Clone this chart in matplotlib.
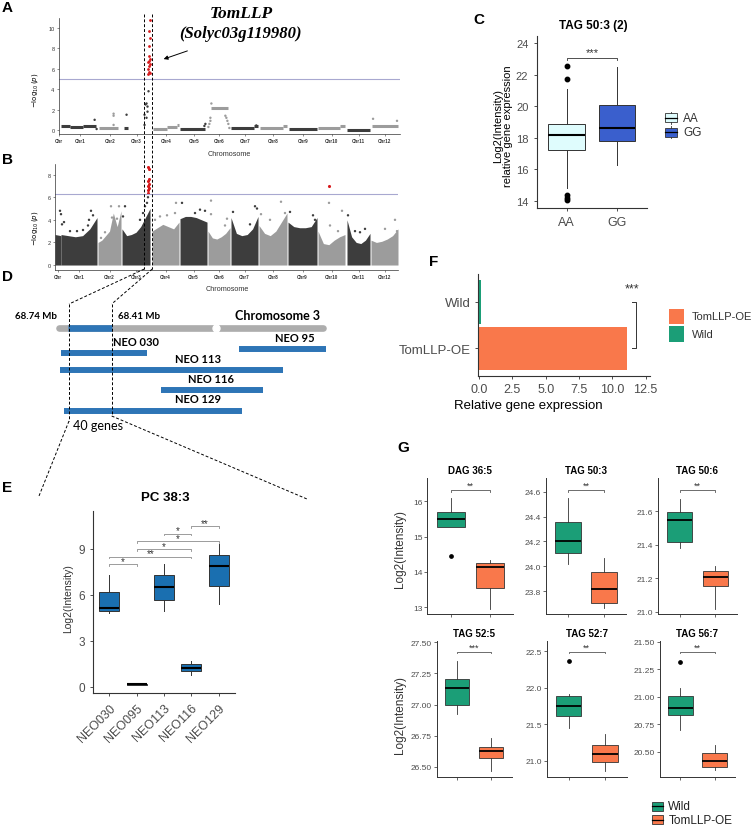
import numpy as np
import matplotlib
matplotlib.use('Agg')
import matplotlib.pyplot as plt
from matplotlib.patches import Rectangle
from matplotlib.ticker import FormatStrFormatter

plt.rcParams['font.family'] = ['Liberation Sans', 'DejaVu Sans']

W, H = 754, 828
fig = plt.figure(figsize=(W / 100, H / 100), dpi=100)

DARK = '#3d3d3d'
GRAY = '#9c9c9c'
RED = '#d7191c'
GREEN = '#1b9e77'
ORANGE = '#f9784b'
NEOBLUE = '#1a6fb0'
DBLUE = '#2e75b6'
AXC = '#333333'
TXC = '#4d4d4d'


def px_axes(l, t, r, b):
    # axes placed by pixel box (left, top, right, bottom)
    return fig.add_axes([l / W, 1 - b / H, (r - l) / W, (b - t) / H])


# ---------------- data: Manhattan plots (A, B) ----------------
chr_names = ['Chr', 'Chr1', 'Chr2', 'Chr3', 'Chr4', 'Chr5', 'Chr6', 'Chr7',
             'Chr8', 'Chr9', 'Chr10', 'Chr11', 'Chr12']
chr_start = [0, 6, 43, 67, 97, 125, 153, 176, 204, 233, 263, 292, 316]
chr_end = [6, 42, 66, 95, 124, 152, 175, 203, 232, 262, 290, 315, 343]
chr_shade = [DARK, DARK, GRAY, DARK, GRAY, DARK, GRAY, DARK, GRAY, DARK, GRAY, DARK, GRAY]

# A: runs of nearly constant -log10(p) and single points
a_run_x0 = [5, 14, 27, 43, 68, 97, 112, 122, 125, 156, 176, 199, 205, 228, 234, 263, 285, 292, 317]
a_run_x1 = [14, 27, 40, 62, 72, 112, 122, 124, 150, 173, 199, 203, 228, 232, 262, 285, 290, 315, 343]
a_run_y = [0.4, 0.3, 0.35, 0.15, 0.2, 0.12, 0.25, 0.45, 0.1, 2.15, 0.15, 0.4, 0.15, 0.35, 0.08, 0.15, 0.35, 0.05, 0.4]
a_pt_x = [39, 41, 58, 58, 58, 71, 89, 89, 90, 91, 92, 92, 93, 91, 149, 150, 153, 154, 155, 155, 156,
          170, 171, 172, 173, 174, 201, 230, 287, 318, 342]
a_pt_y = [1.0, 0.1, 1.6, 1.4, 0.5, 1.5, 0.5, 1.5, 2.5, 2.6, 2.3, 1.8, 3.8, 1.2, 0.4, 0.6, 0.3, 0.6, 0.9, 1.2, 2.6,
          1.4, 1.2, 0.9, 0.6, 0.2, 0.45, 0.35, 0.35, 1.1, 0.9]
a_red_x = [92, 93, 94, 92, 93, 94, 92, 93, 94, 93, 93, 94, 93, 94]
a_red_y = [5.5, 5.7, 5.6, 6.0, 6.3, 6.5, 6.7, 6.8, 7.0, 7.3, 8.2, 9.0, 9.7, 10.8]
a_threshold = 5.0

# B: top of the dense cloud per chromosome, plus sparse upper points
b_top = [[2.7, 2.6],
         [2.7, 2.6, 2.5, 2.6, 3.2, 4.2],
         [2.0, 2.2, 2.6, 3.0, 4.6, 3.4, 4.8],
         [3.2, 2.6, 2.7, 2.9, 3.4, 4.2, 5.0],
         [3.0, 3.3, 3.6, 3.4, 3.2, 3.8],
         [4.1, 4.3, 4.3, 4.2, 4.0, 3.8],
         [3.0, 2.4, 2.3, 2.5, 2.8, 3.3],
         [4.2, 2.8, 2.6, 2.7, 3.2, 4.3],
         [3.5, 2.8, 2.6, 3.0, 3.8, 4.6],
         [3.8, 3.4, 3.3, 3.3, 3.4, 4.2],
         [3.0, 1.9, 1.8, 2.2, 2.5, 2.7],
         [4.0, 2.5, 2.0, 1.9, 2.2, 2.8],
         [2.2, 2.0, 2.1, 2.3, 2.6, 3.2]]
b_pt_x = [5, 6, 7, 9, 15, 22, 28, 33, 36, 38, 34,
          46, 50, 56, 57, 64, 62,
          70, 68, 85, 88, 90, 92, 93,
          100, 105, 112, 120, 121,
          127, 140, 145, 150,
          156, 156, 170, 172,
          178, 200, 202, 195,
          206, 215, 226, 230,
          235, 258, 260,
          274, 275, 287, 283,
          293, 300, 305, 310,
          330, 340, 342]
b_pt_y = [4.8, 4.5, 3.6, 3.8, 3.0, 3.0, 3.1, 3.5, 4.8, 4.4, 4.0,
          2.4, 2.9, 5.2, 4.2, 5.2, 4.1,
          5.2, 4.3, 4.0, 4.6, 5.2, 5.5, 6.0,
          4.0, 4.3, 4.4, 4.6, 5.5,
          5.5, 4.6, 4.9, 4.8,
          5.7, 4.5, 3.5, 4.1,
          4.7, 5.2, 5.0, 3.6,
          4.5, 4.0, 5.6, 4.6,
          4.7, 4.4, 4.0,
          5.5, 3.5, 4.8, 3.0,
          4.4, 3.0, 2.9, 3.2,
          3.2, 4.0, 3.0]
b_red_x = [93, 93, 94, 93, 94, 93, 94, 93, 94, 274]
b_red_y = [6.4, 6.6, 6.8, 7.0, 7.2, 7.4, 8.5, 8.7, 7.6, 7.0]
b_threshold = 6.28

# ---------------- data: C ----------------
c_groups = ['AA', 'GG']
c_q1 = [17.21, 17.8]
c_med = [18.15, 18.63]
c_q3 = [18.85, 20.05]
c_lo = [14.8, 16.3]
c_hi = [21.1, 22.5]
c_fliers = [[22.58, 21.72, 14.35, 14.2, 14.05], []]

# ---------------- data: D ----------------
neo_names = ['NEO 030', 'NEO 95', 'NEO 113', 'NEO 116', 'NEO 129']
neo_start = [2.1, 67.8, 1.8, 38.9, 3.3]
neo_end = [33.9, 99.6, 83.9, 76.4, 68.6]
region = [4.8, 21.0]
centromere = 59.2

# ---------------- data: E ----------------
e_groups = ['NEO030', 'NEO095', 'NEO113', 'NEO116', 'NEO129']
e_q1 = [4.95, 0.12, 5.67, 0.99, 6.59]
e_med = [5.17, 0.15, 6.48, 1.19, 7.86]
e_q3 = [6.2, 0.18, 7.29, 1.47, 8.6]
e_lo = [4.8, 0.12, 4.91, 0.78, 5.39]
e_hi = [7.29, 0.18, 8.0, 1.65, 9.31]
e_sig_a = [1, 1, 2, 2, 3, 4]
e_sig_b = [2, 4, 4, 5, 4, 5]
e_sig_y = [8.0, 8.5, 9.0, 9.53, 10.0, 10.5]
e_sig_lab = ['*', '**', '*', '*', '*', '**']

# ---------------- data: F ----------------
f_groups = ['TomLLP-OE', 'Wild']
f_vals = [11.13, 0.15]

# ---------------- data: G ----------------
g_titles = ['DAG 36:5', 'TAG 50:3', 'TAG 50:6', 'TAG 52:5', 'TAG 52:7', 'TAG 56:7']
g_q1 = [[15.27, 13.55], [24.109, 23.706], [21.415, 21.153], [27.0, 26.57], [21.605, 20.98], [20.834, 20.358]]
g_med = [[15.49, 14.15], [24.2, 23.82], [21.55, 21.206], [27.134, 26.624], [21.742, 21.09], [20.894, 20.413]]
g_q3 = [[15.71, 14.25], [24.356, 23.955], [21.598, 21.245], [27.206, 26.661], [21.888, 21.21], [21.009, 20.488]]
g_lo = [[15.27, 12.95], [24.015, 23.66], [21.379, 21.016], [26.925, 26.468], [21.44, 20.86], [20.70, 20.33]]
g_hi = [[16.08, 14.35], [24.552, 24.07], [21.673, 21.27], [27.35, 26.728], [21.92, 21.36], [21.079, 20.564]]
g_fliers = [[[14.46], []], [[], []], [[], []], [[], []], [[22.37], []], [[21.318], []]]
g_sig = ['**', '**', '**', '***', '**', '**']
g_sig_y = [16.32, 24.614, 21.727, 27.424, 22.495, 21.409]
g_ticks = [[13, 14, 15, 16], [23.8, 24.0, 24.2, 24.4, 24.6], [21.0, 21.2, 21.4, 21.6],
           [26.5, 26.75, 27.0, 27.25, 27.5], [21.0, 21.5, 22.0, 22.5], [20.5, 20.75, 21.0, 21.25, 21.5]]
g_fmt = ['%d', '%.1f', '%.1f', '%.2f', '%.1f', '%.2f']
g_ylim = [(12.81, 16.65), (23.615, 24.708), (20.986, 21.797),
          (26.415, 27.513), (20.77, 22.645), (20.267, 21.509)]
g_boxes = [(427.3, 479.3, 513.3, 615), (546, 479.3, 626, 615), (658.3, 479.3, 736.7, 615),
           (436.7, 641.7, 511.7, 778.3), (546.7, 641.7, 626.7, 778.3), (660, 641.7, 735, 778.3)]


def shade_of(x):
    i = np.searchsorted(chr_start, x, side='right') - 1
    return chr_shade[i]


def classic(ax, lw=0.8):
    for s in ['top', 'right']:
        ax.spines[s].set_visible(False)
    for s in ['left', 'bottom']:
        ax.spines[s].set_linewidth(lw)
        ax.spines[s].set_color(AXC)


def boxes(ax, q1, med, q3, lo, hi, fliers, colors, width, ms=3, lw=0.7, medlw=1.5):
    stats = [dict(q1=a, med=b, q3=c, whislo=d, whishi=e, fliers=f)
             for a, b, c, d, e, f in zip(q1, med, q3, lo, hi, fliers)]
    bp = ax.bxp(stats, positions=list(range(1, len(stats) + 1)), widths=width,
                patch_artist=True, showcaps=False, manage_ticks=False,
                boxprops=dict(edgecolor=AXC, linewidth=lw),
                medianprops=dict(color='black', linewidth=medlw),
                whiskerprops=dict(color=AXC, linewidth=lw),
                flierprops=dict(marker='o', markerfacecolor='black',
                                markeredgecolor='black', markersize=ms))
    for patch, c in zip(bp['boxes'], colors):
        patch.set_facecolor(c)


def bracket(ax, x0, x1, y, tip, label, fs, color, lw=0.6, dy=0.0):
    ax.plot([x0, x0, x1, x1], [y - tip, y, y, y - tip], color=color, lw=lw)
    ax.text((x0 + x1) / 2, y + dy, label, ha='center', va='bottom', fontsize=fs, color='#333333')


chr_mid = [(s + e) / 2 for s, e in zip(chr_start, chr_end)]


def manhattan_axes(ax, yticks):
    classic(ax, lw=0.5)
    ax.set_xticks(chr_mid)
    ax.set_xticklabels(chr_names, fontsize=3.3, fontweight='bold', color='#333333')
    ax.set_yticks(yticks)
    ax.tick_params(axis='both', labelsize=4, length=1.5, width=0.4, pad=1.5, colors='#333333')
    ax.tick_params(axis='x', labelsize=3.3)


# ---------------- panel A ----------------
axA = px_axes(58.7, 19, 400, 135)
axA.hlines(a_run_y, a_run_x0, a_run_x1,
           colors=[shade_of((x0 + x1) / 2) for x0, x1 in zip(a_run_x0, a_run_x1)], linewidth=2.2)
axA.scatter(a_pt_x, a_pt_y, s=3, c=[shade_of(x) for x in a_pt_x], linewidths=0)
axA.scatter(a_red_x, a_red_y, s=4, c=RED, linewidths=0)
axA.axhline(a_threshold, color='#a8a8d0', lw=0.8)
axA.set_xlim(3.7, 345)
axA.set_ylim(-0.39, 10.98)
manhattan_axes(axA, [0, 2, 4, 6, 8, 10])

# ---------------- panel B ----------------
axB = px_axes(55, 165, 398, 271)
for i in range(len(chr_names)):
    xs = np.linspace(chr_start[i], chr_end[i], len(b_top[i]))
    axB.fill_between(xs, 0, b_top[i], color=chr_shade[i], lw=0)
axB.scatter(b_pt_x, b_pt_y, s=3, c=[shade_of(x) for x in b_pt_x], linewidths=0)
axB.scatter(b_red_x, b_red_y, s=5, c=RED, linewidths=0)
axB.axhline(b_threshold, color='#a8a8d0', lw=0.8)
axB.set_xlim(0, 343)
axB.set_ylim(-0.44, 8.94)
manhattan_axes(axB, [0, 2, 4, 6, 8])

# ---------------- panel C ----------------
axC = px_axes(536.7, 37, 647, 209)
boxes(axC, c_q1, c_med, c_q3, c_lo, c_hi, c_fliers, ['#dffcfd', '#3a5fcd'], 0.73, ms=3.2)
bracket(axC, 1, 2, 23.07, 0.12, '***', 8, '#333333', dy=0.05)
axC.set_xlim(0.4, 2.6)
axC.set_ylim(13.54, 24.46)
axC.set_xticks([1, 2])
axC.set_xticklabels(c_groups)
axC.set_yticks([14, 16, 18, 20, 22, 24])
classic(axC)
axC.tick_params(labelsize=8, colors=TXC, length=2.5, width=0.7)
axC.tick_params(axis='x', labelsize=9)

# ---------------- panel D ----------------
axD = px_axes(0, 300, 340, 440)
axD.set_xlim(-20.22, 104.78)
axD.set_ylim(440, 300)
axD.axis('off')
chrom_y = 329.3
neo_y = [354.3, 350, 371, 391, 412.3]
axD.plot([1.3, 98.7], [chrom_y, chrom_y], lw=4.8, color='#adadad', solid_capstyle='round')
axD.plot(region, [chrom_y, chrom_y], lw=4.8, color=DBLUE, solid_capstyle='butt')
axD.plot([centromere], [chrom_y], marker='o', ms=5, color='white', mec='white')
axD.hlines(neo_y, neo_start, neo_end, colors=DBLUE, linewidth=4.3)
neo_lab_x = [21.2, 88.2, 52.6, 57.4, 52.6]
neo_lab_y = [342.3, 339, 359.3, 379.3, 400]
neo_lab_ha = ['left', 'center', 'center', 'center', 'center']
for name, x, y, ha in zip(neo_names, neo_lab_x, neo_lab_y, neo_lab_ha):
    axD.text(x, y, name, ha=ha, va='center', fontsize=8, fontweight='bold', family='Lato')
axD.text(-14.7, 316.7, '68.74 Mb', ha='left', va='center', fontsize=7, fontweight='bold', family='Lato')
axD.text(23.2, 316.7, '68.41 Mb', ha='left', va='center', fontsize=7, fontweight='bold', family='Lato')
axD.text(97.5, 316.5, 'Chromosome 3', ha='right', va='center', fontsize=9, fontweight='bold', family='Lato')
axD.text(6.7, 426.5, '40 genes', ha='left', va='center', fontsize=9, family='Lato')

# ---------------- panel E ----------------
axE = px_axes(93, 511.7, 235, 694)
boxes(axE, e_q1, e_med, e_q3, e_lo, e_hi, [[]] * 5, [NEOBLUE] * 5, 0.73)
for a, b, y, lab in zip(e_sig_a, e_sig_b, e_sig_y, e_sig_lab):
    bracket(axE, a, b, y, 0.12, lab, 7, '#8c8c8c', lw=0.6, dy=-0.12)
axE.set_xlim(0.4, 5.6)
axE.set_ylim(-0.42, 11.5)
axE.set_yticks([0, 3, 6, 9])
axE.set_xticks(range(1, 6))
axE.set_xticklabels(e_groups, rotation=45, ha='right', va='top', rotation_mode='anchor')
classic(axE)
axE.tick_params(labelsize=8.5, colors=TXC, length=2.5, width=0.7)
axE.tick_params(axis='x', labelsize=9)

# ---------------- panel F ----------------
axF = px_axes(477.7, 275, 650, 377.3)
axF.barh([1, 2], f_vals, height=0.94, color=[ORANGE, GREEN])
axF.plot([11.45, 11.76, 11.76, 11.45], [2, 2, 1, 1], color='#333333', lw=0.7)
axF.text(11.46, 2.3, '***', ha='center', va='center', fontsize=9, color='#333333')
axF.set_xlim(-0.1, 12.83)
axF.set_ylim(0.4, 2.6)
axF.set_yticks([1, 2])
axF.set_yticklabels(f_groups)
axF.set_xticks([0, 2.5, 5, 7.5, 10, 12.5])
axF.xaxis.set_major_formatter(FormatStrFormatter('%.1f'))
classic(axF)
axF.tick_params(labelsize=9, colors=TXC, length=2.5, width=0.7, pad=2.5)
axF.tick_params(axis='y', labelsize=9.5)

# ---------------- panel G ----------------
for k in range(6):
    l, t, r, b = g_boxes[k]
    ax = px_axes(l, t, r, b)
    boxes(ax, g_q1[k], g_med[k], g_q3[k], g_lo[k], g_hi[k], g_fliers[k], [GREEN, ORANGE],
          0.71, ms=2.4, lw=0.6, medlw=1.3)
    lo, hi = g_ylim[k]
    bracket(ax, 1, 2, g_sig_y[k], 0.012 * (hi - lo), g_sig[k], 6.5, '#555555', lw=0.6)
    ax.set_xlim(0.4, 2.6)
    ax.set_ylim(lo, hi)
    ax.set_xticks([1, 2])
    ax.set_xticklabels(['', ''])
    ax.set_yticks(g_ticks[k])
    ax.yaxis.set_major_formatter(FormatStrFormatter(g_fmt[k]))
    ax.set_title(g_titles[k], fontsize=7, fontweight='bold', pad=3.5)
    classic(ax, lw=0.7)
    ax.tick_params(labelsize=6, colors=TXC, length=2, width=0.6, pad=1.5)

# ---------------- overlay: labels, legends, zoom lines ----------------
ov = fig.add_axes([0, 0, 1, 1])
ov.set_xlim(0, W)
ov.set_ylim(H, 0)
ov.axis('off')
ov.patch.set_alpha(0)

dash = dict(color='black', lw=0.7, ls=(0, (3, 2)))
for (x0, y0), (x1, y1) in [((144.3, 15), (144.3, 270)), ((152.3, 15), (152.3, 270)),
                           ((144.3, 270), (69, 305)), ((152.3, 270), (111.7, 305)),
                           ((69, 305), (69, 422)), ((111.7, 305), (111.7, 417)),
                           ((69, 422), (39, 497)), ((111.7, 417), (307, 500))]:
    ov.plot([x0, x1], [y0, y1], **dash)

for lab, x, y in [('A', 2, 8), ('B', 2, 160.5), ('C', 473, 20.5), ('D', 2, 277.5),
                  ('E', 2, 488.5), ('F', 429, 261.7), ('G', 397, 448)]:
    ov.text(x, y, lab, ha='left', va='center', fontsize=11, fontweight='bold')

ov.text(241, 14, 'TomLLP', ha='center', va='center', fontsize=12.5, fontweight='bold',
        style='italic', family='Liberation Serif')
ov.text(240, 33.5, '(Solyc03g119980)', ha='center', va='center', fontsize=12, fontweight='bold',
        style='italic', family='Liberation Serif')
ov.annotate('', xy=(161, 61), xytext=(190, 51),
            arrowprops=dict(arrowstyle='-|>', color='black', lw=0.7, mutation_scale=6))

ov.text(35, 90, r'$-\log_{10}(p)$', rotation=90, ha='center', va='center', fontsize=5)
ov.text(35, 228, r'$-\log_{10}(p)$', rotation=90, ha='center', va='center', fontsize=5)
ov.text(229, 155, 'Chromosome', ha='center', va='center', fontsize=5.2, color='#333333')
ov.text(227, 290, 'Chromosome', ha='center', va='center', fontsize=5.2, color='#333333')

ov.text(593, 26, 'TAG 50:3 (2)', ha='center', va='center', fontsize=8.5, fontweight='bold')
ov.text(503, 126, 'Log2(Intensity)\nrelative gene expression', rotation=90,
        ha='center', va='center', fontsize=8, linespacing=1.0)
for lab, y, c in [('AA', 118.7, '#dffcfd'), ('GG', 133.3, '#3a5fcd')]:
    ov.add_patch(Rectangle((665, y - 4.3), 11.7, 8.6, fc=c, ec=AXC, lw=0.6))
    ov.plot([665, 676.7], [y, y], color='black', lw=0.9)
    ov.plot([670.85, 670.85], [y - 6, y - 4.3], color=AXC, lw=0.6)
    ov.plot([670.85, 670.85], [y + 4.3, y + 6], color=AXC, lw=0.6)
    ov.text(683.3, y, lab, ha='left', va='center', fontsize=8.5, color='#333333')

ov.text(165, 498, 'PC 38:3', ha='center', va='center', fontsize=9.5, fontweight='bold')
ov.text(68, 598.5, 'Log2(Intensity)', rotation=90, ha='center', va='center', fontsize=7.5, color='#333333')

ov.text(528, 406, 'Relative gene expression', ha='center', va='center', fontsize=9.5)
for lab, y, c in [('TomLLP-OE', 317.2, ORANGE), ('Wild', 335, GREEN)]:
    ov.add_patch(Rectangle((669.3, y - 7.7), 15, 15.4, fc=c, ec='none'))
    ov.text(691.7, y, lab, ha='left', va='center', fontsize=8, color='#333333')

ov.text(400, 549, 'Log2(Intensity)', rotation=90, ha='center', va='center', fontsize=8.5, color='#333333')
ov.text(400, 715, 'Log2(Intensity)', rotation=90, ha='center', va='center', fontsize=8.5, color='#333333')
for lab, y, c in [('Wild', 807.3, GREEN), ('TomLLP-OE', 820.7, ORANGE)]:
    ov.add_patch(Rectangle((651.7, y - 4.3), 11.7, 8.6, fc=c, ec=AXC, lw=0.6))
    ov.plot([651.7, 663.4], [y, y], color='black', lw=0.9)
    ov.text(668.3, y, lab, ha='left', va='center', fontsize=8.5, color='#222222')

fig.savefig('out.png', dpi=100)
